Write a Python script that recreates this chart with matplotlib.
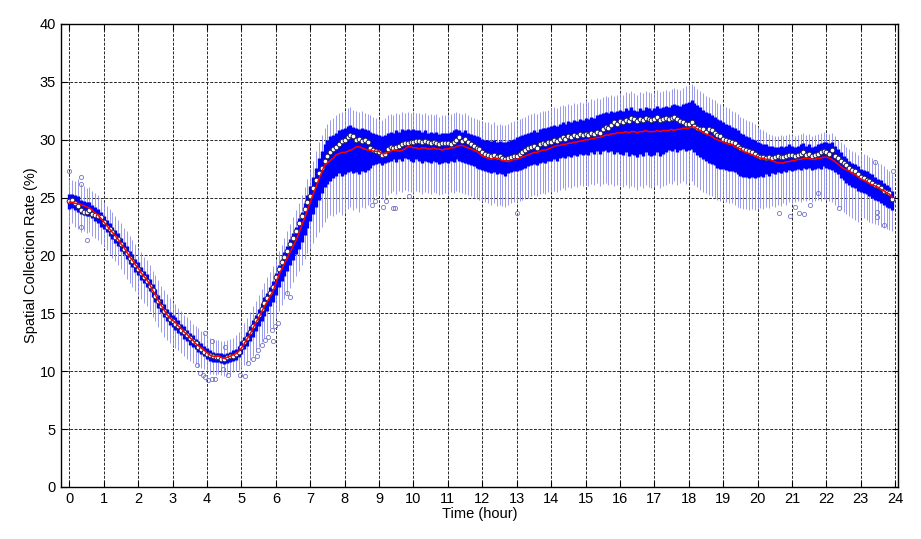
import numpy as np
import matplotlib
matplotlib.use("Agg")
import matplotlib.pyplot as plt

#one box every 5 min, 12 per hour, one row per hour

#mean (red line)
mean_v = [
    24.6, 24.6, 24.5, 24.5, 24.4, 24.3, 24.2, 24.1, 23.9, 23.7, 23.5, 23.2,
    22.9, 22.6, 22.3, 22.0, 21.7, 21.4, 21.0, 20.7, 20.3, 19.9, 19.6, 19.2,
    18.9, 18.5, 18.2, 17.9, 17.5, 17.0, 16.6, 16.1, 15.7, 15.3, 14.9, 14.6,
    14.4, 14.2, 13.9, 13.7, 13.4, 13.2, 12.9, 12.7, 12.4, 12.2, 12.0, 11.8,
    11.6, 11.4, 11.3, 11.3, 11.3, 11.2, 11.1, 11.2, 11.3, 11.4, 11.5, 11.7,
    12.0, 12.4, 12.8, 13.2, 13.7, 14.2, 14.6, 15.1, 15.6, 16.0, 16.5, 16.9,
    17.6, 18.3, 18.8, 19.3, 19.8, 20.3, 20.8, 21.3, 21.9, 22.6, 23.2, 23.9,
    24.6, 25.3, 25.9, 26.6, 27.2, 27.8, 28.0, 28.2, 28.4, 28.7, 28.8, 28.9,
    28.9, 29.0, 29.1, 29.2, 29.4, 29.4, 29.3, 29.2, 29.1, 29.1, 29.0, 29.0,
    29.0, 28.8, 28.8, 28.9, 29.0, 29.1, 29.1, 29.0, 29.1, 29.2, 29.4, 29.4,
    29.3, 29.3, 29.2, 29.3, 29.3, 29.2, 29.2, 29.3, 29.2, 29.2, 29.1, 29.2,
    29.2, 29.3, 29.3, 29.4, 29.5, 29.5, 29.4, 29.3, 29.2, 29.1, 29.0, 28.8,
    28.6, 28.5, 28.4, 28.3, 28.4, 28.4, 28.3, 28.2, 28.2, 28.1, 28.2, 28.3,
    28.3, 28.4, 28.5, 28.6, 28.7, 28.8, 28.9, 28.9, 29.0, 29.1, 29.1, 29.2,
    29.3, 29.4, 29.5, 29.5, 29.6, 29.6, 29.7, 29.7, 29.8, 29.8, 29.9, 29.9,
    30.0, 30.0, 30.1, 30.1, 30.2, 30.2, 30.3, 30.4, 30.4, 30.5, 30.5, 30.6,
    30.6, 30.6, 30.7, 30.6, 30.7, 30.7, 30.6, 30.7, 30.7, 30.8, 30.7, 30.7,
    30.7, 30.8, 30.7, 30.8, 30.8, 30.8, 30.9, 30.8, 30.9, 30.9, 31.0, 31.0,
    31.0, 31.1, 31.1, 30.9, 30.8, 30.6, 30.5, 30.4, 30.3, 30.1, 30.0, 29.9,
    29.8, 29.7, 29.6, 29.6, 29.4, 29.3, 29.2, 29.0, 28.9, 28.8, 28.7, 28.6,
    28.5, 28.4, 28.4, 28.3, 28.3, 28.2, 28.1, 28.0, 28.0, 28.0, 28.1, 28.1,
    28.2, 28.2, 28.3, 28.3, 28.4, 28.4, 28.4, 28.3, 28.3, 28.4, 28.4, 28.5,
    28.5, 28.4, 28.3, 28.1, 27.9, 27.7, 27.5, 27.4, 27.3, 27.1, 27.0, 26.8,
    26.6, 26.5, 26.4, 26.2, 26.1, 26.0, 25.9, 25.7, 25.6, 25.4, 25.3, 25.0,
]

#median (white circles)
med_v = [
    24.7, 24.8, 24.5, 24.3, 23.9, 23.8, 23.8, 23.9, 23.6, 23.5, 23.4, 23.3,
    22.9, 22.5, 22.3, 22.0, 21.6, 21.4, 21.0, 20.6, 20.2, 19.8, 19.5, 19.2,
    18.8, 18.5, 18.1, 17.8, 17.4, 17.0, 16.5, 16.1, 15.6, 15.2, 14.9, 14.5,
    14.3, 14.1, 13.9, 13.6, 13.4, 13.1, 12.9, 12.6, 12.4, 12.1, 11.9, 11.7,
    11.5, 11.4, 11.3, 11.2, 11.2, 11.1, 11.1, 11.2, 11.3, 11.3, 11.5, 11.7,
    12.1, 12.5, 12.9, 13.4, 13.9, 14.4, 14.9, 15.4, 15.9, 16.3, 16.8, 17.3,
    18.1, 18.8, 19.4, 19.9, 20.4, 21.0, 21.5, 22.1, 22.8, 23.4, 24.0, 24.6,
    25.1, 25.8, 26.5, 27.1, 27.6, 28.2, 28.6, 28.9, 29.2, 29.4, 29.6, 29.9,
    30.0, 30.2, 30.4, 30.3, 30.0, 30.1, 29.9, 30.0, 29.8, 29.3, 29.1, 29.0,
    28.9, 28.7, 28.8, 29.2, 29.4, 29.3, 29.4, 29.5, 29.6, 29.7, 29.7, 29.8,
    29.8, 29.9, 29.9, 29.8, 29.9, 29.8, 29.7, 29.8, 29.7, 29.6, 29.7, 29.7,
    29.7, 29.6, 29.8, 30.0, 30.2, 29.9, 30.1, 29.8, 29.6, 29.5, 29.3, 29.2,
    28.9, 28.8, 28.7, 28.6, 28.7, 28.5, 28.6, 28.4, 28.3, 28.4, 28.5, 28.6,
    28.6, 28.8, 28.9, 29.1, 29.3, 29.4, 29.5, 29.3, 29.6, 29.7, 29.6, 29.8,
    29.8, 30.0, 29.9, 30.1, 30.2, 30.1, 30.3, 30.2, 30.4, 30.3, 30.5, 30.4,
    30.5, 30.4, 30.6, 30.5, 30.7, 30.6, 30.9, 31.1, 31.0, 31.3, 31.5, 31.4,
    31.6, 31.5, 31.7, 31.6, 31.9, 31.8, 31.6, 31.8, 31.7, 31.9, 31.8, 31.7,
    31.8, 32.0, 31.7, 31.8, 31.9, 31.8, 31.9, 32.0, 31.8, 31.6, 31.5, 31.4,
    31.4, 31.5, 31.2, 31.0, 30.9, 30.9, 30.7, 30.9, 30.8, 30.6, 30.4, 30.3,
    30.1, 30.0, 29.9, 29.8, 29.7, 29.5, 29.3, 29.2, 29.1, 29.0, 28.9, 28.8,
    28.6, 28.5, 28.5, 28.4, 28.5, 28.4, 28.5, 28.6, 28.5, 28.5, 28.6, 28.7,
    28.7, 28.6, 28.7, 28.8, 28.9, 28.7, 28.8, 28.6, 28.7, 28.8, 28.9, 29.0,
    28.9, 28.8, 29.1, 28.6, 28.4, 28.2, 28.0, 27.8, 27.6, 27.4, 27.3, 27.0,
    26.8, 26.7, 26.5, 26.4, 26.3, 26.1, 26.0, 25.8, 25.6, 25.5, 25.4, 24.9,
]

#upper quartile
q3_v = [
    25.3, 25.3, 25.2, 25.1, 24.8, 24.7, 24.6, 24.6, 24.4, 24.2, 24.0, 23.8,
    23.4, 23.1, 22.8, 22.5, 22.2, 21.9, 21.5, 21.2, 20.8, 20.4, 20.1, 19.7,
    19.4, 19.0, 18.7, 18.4, 18.0, 17.5, 17.1, 16.6, 16.2, 15.8, 15.4, 15.1,
    14.9, 14.7, 14.4, 14.1, 13.9, 13.6, 13.3, 13.1, 12.8, 12.6, 12.4, 12.2,
    12.0, 11.8, 11.7, 11.6, 11.6, 11.6, 11.5, 11.6, 11.7, 11.8, 11.9, 12.2,
    12.6, 13.0, 13.4, 13.9, 14.4, 14.9, 15.4, 15.9, 16.4, 16.8, 17.3, 17.8,
    18.5, 19.2, 19.7, 20.3, 20.8, 21.4, 21.9, 22.5, 23.2, 23.8, 24.5, 25.2,
    26.0, 26.8, 27.6, 28.4, 29.0, 29.6, 30.0, 30.3, 30.4, 30.6, 30.8, 30.9,
    31.0, 31.2, 31.3, 31.1, 31.0, 30.9, 31.0, 30.9, 30.8, 30.7, 30.6, 30.5,
    30.4, 30.3, 30.4, 30.6, 30.7, 30.6, 30.8, 30.7, 30.9, 30.8, 30.9, 30.8,
    30.9, 30.8, 30.8, 30.7, 30.8, 30.6, 30.7, 30.6, 30.7, 30.5, 30.6, 30.6,
    30.6, 30.7, 30.8, 30.9, 30.8, 30.7, 30.8, 30.6, 30.5, 30.4, 30.3, 30.2,
    30.1, 30.0, 30.0, 29.9, 30.0, 29.8, 29.9, 29.8, 29.8, 29.9, 30.0, 30.1,
    30.2, 30.3, 30.4, 30.5, 30.6, 30.7, 30.8, 30.7, 30.9, 31.0, 31.0, 31.1,
    31.2, 31.3, 31.2, 31.4, 31.5, 31.4, 31.6, 31.5, 31.7, 31.6, 31.8, 31.7,
    31.9, 31.8, 32.0, 31.9, 32.1, 32.2, 32.3, 32.4, 32.3, 32.5, 32.4, 32.5,
    32.6, 32.5, 32.7, 32.6, 32.8, 32.6, 32.5, 32.7, 32.6, 32.8, 32.7, 32.6,
    32.7, 32.9, 32.7, 32.8, 32.9, 32.8, 33.0, 33.1, 33.0, 32.9, 33.1, 33.2,
    33.3, 33.4, 33.2, 33.0, 32.8, 32.6, 32.4, 32.3, 32.1, 32.0, 31.8, 31.7,
    31.5, 31.4, 31.3, 31.1, 31.0, 30.8, 30.6, 30.5, 30.3, 30.2, 30.1, 30.0,
    29.8, 29.7, 29.6, 29.6, 29.5, 29.5, 29.4, 29.4, 29.5, 29.4, 29.5, 29.6,
    29.5, 29.4, 29.5, 29.6, 29.7, 29.5, 29.6, 29.4, 29.5, 29.6, 29.7, 29.8,
    29.8, 29.7, 29.8, 29.5, 29.2, 28.9, 28.6, 28.4, 28.2, 28.0, 27.9, 27.7,
    27.5, 27.4, 27.3, 27.1, 27.0, 26.8, 26.6, 26.5, 26.3, 26.1, 25.9, 25.6,
]

#lower quartile
q1_v = [
    24.0, 24.1, 23.9, 23.8, 23.6, 23.5, 23.4, 23.4, 23.2, 23.0, 22.8, 22.5,
    22.3, 22.0, 21.7, 21.4, 21.1, 20.8, 20.4, 20.1, 19.7, 19.3, 19.0, 18.6,
    18.3, 17.9, 17.6, 17.3, 16.9, 16.4, 16.0, 15.5, 15.1, 14.7, 14.3, 14.0,
    13.8, 13.6, 13.3, 13.1, 12.8, 12.6, 12.3, 12.1, 11.9, 11.7, 11.5, 11.3,
    11.1, 10.9, 10.8, 10.8, 10.8, 10.7, 10.6, 10.7, 10.8, 10.9, 11.0, 11.2,
    11.5, 11.9, 12.2, 12.6, 13.0, 13.5, 13.9, 14.3, 14.8, 15.2, 15.6, 16.0,
    16.6, 17.3, 17.8, 18.2, 18.7, 19.2, 19.6, 20.1, 20.6, 21.2, 21.8, 22.4,
    23.0, 23.6, 24.2, 24.8, 25.4, 25.9, 26.2, 26.4, 26.7, 26.9, 27.1, 26.9,
    27.0, 27.2, 27.3, 27.1, 27.2, 27.0, 27.3, 27.2, 27.4, 27.6, 27.8, 27.9,
    28.0, 27.8, 28.0, 28.1, 28.2, 28.3, 28.1, 28.3, 28.2, 28.4, 28.3, 28.2,
    28.1, 28.3, 28.2, 28.0, 28.2, 28.1, 28.0, 28.2, 28.1, 27.9, 28.0, 28.1,
    28.0, 28.2, 28.1, 28.3, 28.2, 28.1, 28.0, 27.9, 27.8, 27.7, 27.6, 27.5,
    27.4, 27.3, 27.2, 27.1, 27.2, 27.0, 27.1, 27.0, 26.9, 27.1, 27.2, 27.3,
    27.3, 27.4, 27.5, 27.6, 27.7, 27.8, 27.9, 27.8, 28.0, 28.1, 28.0, 28.2,
    28.2, 28.3, 28.2, 28.4, 28.5, 28.4, 28.6, 28.5, 28.7, 28.6, 28.8, 28.7,
    28.8, 28.7, 28.9, 28.8, 29.0, 28.8, 29.0, 29.1, 28.9, 29.0, 28.8, 28.9,
    28.8, 28.7, 28.9, 28.6, 28.8, 28.7, 28.5, 28.8, 28.6, 28.9, 28.7, 28.6,
    28.7, 28.9, 28.6, 28.8, 28.9, 29.1, 29.0, 29.2, 28.9, 29.1, 29.2, 29.0,
    29.1, 29.2, 28.9, 28.7, 28.5, 28.3, 28.2, 28.0, 27.9, 27.8, 27.6, 27.5,
    27.5, 27.4, 27.3, 27.3, 27.2, 27.0, 26.9, 26.8, 26.8, 26.7, 26.8, 26.7,
    26.8, 26.9, 26.8, 27.0, 26.9, 27.1, 27.0, 27.2, 27.1, 27.3, 27.2, 27.4,
    27.3, 27.4, 27.5, 27.4, 27.6, 27.5, 27.6, 27.4, 27.5, 27.6, 27.5, 27.7,
    27.6, 27.5, 27.4, 27.2, 27.0, 26.7, 26.5, 26.3, 26.1, 25.9, 25.8, 25.6,
    25.5, 25.4, 25.3, 25.1, 25.0, 24.8, 24.7, 24.5, 24.4, 24.2, 24.1, 23.9,
]

#upper whisker end
whi_v = [
    26.6, 26.5, 26.4, 26.6, 26.2, 26.0, 25.8, 25.9, 25.6, 25.4, 25.2, 24.9,
    24.6, 24.3, 24.0, 23.8, 23.4, 23.1, 22.8, 22.4, 22.1, 21.7, 21.3, 21.0,
    20.6, 20.3, 19.9, 19.6, 19.2, 18.7, 18.3, 17.9, 17.4, 17.0, 16.7, 16.3,
    16.0, 15.8, 15.5, 15.2, 14.9, 14.7, 14.4, 14.1, 13.9, 13.7, 13.5, 13.3,
    13.1, 12.9, 12.8, 12.7, 12.7, 12.6, 12.6, 12.7, 12.8, 12.9, 13.1, 13.4,
    13.8, 14.2, 14.6, 15.1, 15.6, 16.1, 16.6, 17.1, 17.6, 18.1, 18.6, 19.1,
    19.7, 20.4, 20.9, 21.5, 22.1, 22.7, 23.3, 23.9, 24.5, 25.2, 25.9, 26.6,
    27.4, 28.2, 29.0, 29.8, 30.4, 31.0, 31.4, 31.7, 31.9, 32.1, 32.3, 32.4,
    32.5, 32.7, 32.8, 32.6, 32.5, 32.4, 32.5, 32.3, 32.2, 32.1, 32.0, 31.9,
    31.8, 31.7, 31.9, 32.1, 32.2, 32.1, 32.3, 32.2, 32.4, 32.3, 32.4, 32.3,
    32.4, 32.3, 32.3, 32.2, 32.3, 32.1, 32.2, 32.1, 32.2, 32.0, 32.1, 32.1,
    32.1, 32.2, 32.3, 32.4, 32.3, 32.2, 32.3, 32.1, 32.0, 31.9, 31.8, 31.7,
    31.6, 31.5, 31.5, 31.4, 31.5, 31.3, 31.4, 31.3, 31.3, 31.4, 31.5, 31.6,
    31.7, 31.8, 31.9, 32.0, 32.1, 32.2, 32.3, 32.2, 32.4, 32.5, 32.5, 32.6,
    32.7, 32.8, 32.7, 32.9, 33.0, 32.9, 33.1, 33.0, 33.2, 33.1, 33.3, 33.2,
    33.4, 33.3, 33.5, 33.4, 33.6, 33.5, 33.7, 33.8, 33.7, 33.9, 33.8, 33.9,
    34.0, 33.9, 34.1, 34.0, 34.2, 34.0, 33.9, 34.1, 34.0, 34.2, 34.1, 34.0,
    34.1, 34.3, 34.1, 34.2, 34.3, 34.2, 34.4, 34.5, 34.4, 34.3, 34.5, 34.6,
    34.7, 34.8, 34.6, 34.4, 34.2, 34.0, 33.8, 33.7, 33.5, 33.4, 33.2, 33.1,
    32.9, 32.8, 32.7, 32.5, 32.4, 32.2, 32.0, 31.9, 31.7, 31.6, 31.5, 31.4,
    31.1, 30.9, 30.8, 30.7, 30.5, 30.4, 30.3, 30.3, 30.4, 30.3, 30.4, 30.5,
    30.4, 30.3, 30.4, 30.5, 30.6, 30.4, 30.5, 30.3, 30.4, 30.5, 30.6, 30.7,
    30.6, 30.5, 30.6, 30.3, 30.0, 29.8, 29.6, 29.4, 29.2, 29.0, 28.9, 28.7,
    28.9, 28.8, 28.7, 28.5, 28.4, 28.2, 28.0, 27.9, 27.7, 27.5, 27.3, 27.0,
]

#lower whisker end
wlo_v = [
    22.6, 22.8, 22.5, 22.3, 22.0, 22.1, 21.9, 22.0, 21.7, 21.5, 21.3, 21.0,
    20.8, 20.5, 20.1, 19.8, 19.5, 19.2, 18.8, 18.4, 18.0, 17.6, 17.3, 16.9,
    16.6, 16.2, 15.9, 15.6, 15.2, 14.7, 14.3, 13.8, 13.4, 13.0, 12.7, 12.4,
    12.2, 12.0, 11.8, 11.6, 11.3, 11.1, 10.9, 10.7, 10.6, 10.4, 10.3, 10.2,
    10.0, 9.8, 9.8, 9.7, 9.8, 9.7, 9.6, 9.7, 9.8, 9.9, 10.0, 10.1,
    10.3, 10.5, 10.7, 11.0, 11.3, 11.7, 12.1, 12.5, 12.9, 13.3, 13.7, 14.1,
    14.6, 15.2, 15.7, 16.2, 16.7, 17.2, 17.7, 18.2, 18.7, 19.2, 19.7, 20.2,
    20.6, 21.1, 21.6, 22.0, 22.5, 22.9, 23.2, 23.5, 23.4, 23.6, 23.8, 23.5,
    23.7, 24.0, 24.2, 23.9, 24.1, 23.8, 24.2, 24.1, 24.4, 24.6, 24.9, 25.1,
    25.3, 24.9, 25.0, 25.2, 25.4, 25.6, 25.3, 25.6, 25.5, 25.7, 25.6, 25.5,
    25.4, 25.6, 25.5, 25.3, 25.5, 25.4, 25.3, 25.5, 25.4, 25.2, 25.3, 25.4,
    25.3, 25.5, 25.4, 25.6, 25.5, 25.4, 25.3, 25.2, 25.1, 25.0, 24.9, 24.8,
    24.7, 24.6, 24.5, 24.4, 24.5, 24.3, 24.4, 24.3, 24.2, 24.4, 24.5, 24.6,
    24.6, 24.7, 24.8, 24.9, 25.0, 25.1, 25.2, 25.1, 25.3, 25.4, 25.3, 25.5,
    25.5, 25.6, 25.5, 25.7, 25.8, 25.7, 25.9, 25.8, 26.0, 25.9, 26.1, 26.0,
    26.1, 26.0, 26.2, 26.1, 26.3, 26.0, 26.2, 26.3, 26.1, 26.2, 26.0, 26.1,
    26.0, 25.9, 26.1, 25.8, 26.0, 25.9, 25.7, 26.0, 25.8, 26.1, 25.9, 25.8,
    25.9, 26.1, 25.8, 26.0, 26.1, 26.3, 26.2, 26.4, 26.1, 26.3, 26.4, 26.2,
    26.3, 26.4, 26.1, 25.9, 25.7, 25.5, 25.4, 25.2, 25.1, 25.0, 24.8, 24.7,
    24.7, 24.6, 24.5, 24.5, 24.4, 24.2, 24.1, 24.0, 24.0, 23.9, 24.0, 23.9,
    24.0, 24.1, 24.0, 24.2, 24.1, 24.3, 24.2, 24.4, 24.3, 24.5, 24.4, 24.6,
    24.5, 24.6, 24.7, 24.6, 24.8, 24.7, 24.8, 24.6, 24.7, 24.8, 24.7, 24.9,
    24.8, 24.7, 24.6, 24.4, 24.2, 24.0, 23.8, 23.6, 23.4, 23.2, 23.1, 22.9,
    23.3, 23.2, 23.1, 22.9, 22.8, 22.7, 22.6, 22.5, 22.4, 22.3, 22.2, 22.1,
]

#outliers (hour, %)
out_t = [0.0, 0.33, 0.35, 0.35, 0.5,
         3.7, 3.79, 3.88, 3.94, 3.94, 4.03, 4.13, 4.13, 4.23, 4.46, 4.52, 4.61,
         4.96, 5.1, 5.19, 5.33, 5.45, 5.48, 5.59, 5.68, 5.77, 5.88, 5.92, 5.97,
         6.07, 6.31, 6.41,
         8.78, 8.88, 9.11, 9.2, 9.4, 9.47, 9.88, 13.0,
         20.63, 20.94, 21.09, 21.2, 21.35, 21.53, 21.76, 22.37,
         23.42, 23.47, 23.47, 23.67, 23.94]
out_v = [27.3, 26.8, 26.2, 22.5, 21.3,
         10.5, 9.85, 9.7, 9.5, 13.3, 9.25, 9.3, 12.6, 9.35, 10.2, 12.1, 9.7,
         9.7, 9.6, 10.7, 11.1, 11.3, 11.8, 12.3, 12.7, 13.0, 13.6, 12.6, 13.9,
         14.2, 16.8, 16.4,
         24.4, 24.7, 24.2, 24.7, 24.1, 24.1, 25.1, 23.7,
         23.7, 23.4, 24.2, 23.7, 23.6, 24.4, 25.4, 24.1,
         28.1, 23.8, 23.3, 22.6, 27.3]

xticks = list(range(0, 25))
yticks = list(range(0, 41, 5))

#_____________________________________________________________________________
def main():

    plt.rcParams["font.family"] = ["Liberation Sans", "DejaVu Sans"]

    t = np.arange(len(mean_v))/12.

    fig = plt.figure(figsize=(9.21, 5.39), dpi=100)
    ax = fig.add_axes([0.066, 0.0965, 0.909, 0.859])

    #whiskers
    ax.vlines(t, wlo_v, whi_v, color="#8a8aee", lw=0.6, zorder=2)
    #boxes
    ax.vlines(t, q1_v, q3_v, color="#0000ff", lw=2.4, zorder=3)
    #outliers
    ax.plot(out_t, out_v, "o", mfc="none", mec="#7474c4", ms=3.0, mew=0.6, zorder=3)
    #median
    ax.plot(t, med_v, "o", mfc="white", mec="#202050", ms=3.4, mew=0.7, zorder=4)
    #mean
    ax.plot(t, mean_v, "-", color="red", lw=1.1, zorder=5)

    ax.set_xlim(-0.25, 24.08)
    ax.set_ylim(0, 40)
    ax.set_xticks(xticks)
    ax.set_yticks(yticks)

    ax.grid(True, color="0.15", linestyle=(0, (3, 1.5)), linewidth=0.7, zorder=1)
    ax.set_axisbelow(True)

    ax.tick_params(direction="in", length=4, labelsize=10.5, top=True, right=True)
    for s in ax.spines.values():
        s.set_linewidth(1.0)

    ax.set_xlabel("Time (hour)", fontsize=10.5, labelpad=1)
    ax.set_ylabel("Spatial Collection Rate (%)", fontsize=10.5, labelpad=1)

    fig.savefig("out.png", dpi=100)
    plt.close()

#main

if __name__ == "__main__":
    main()
